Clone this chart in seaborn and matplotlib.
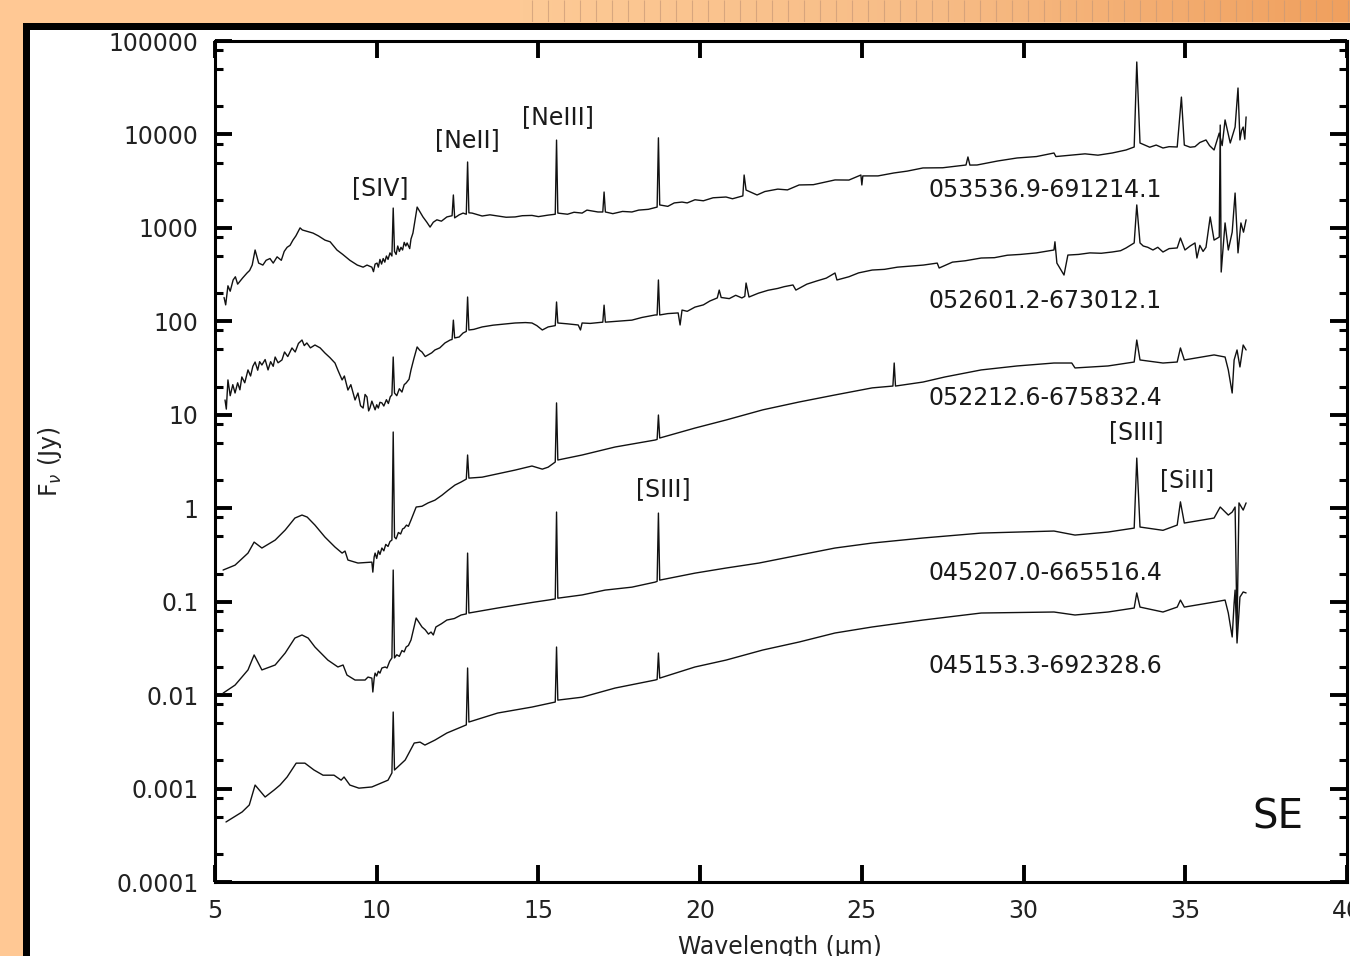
import matplotlib
matplotlib.use("Agg")
import numpy as np
import pandas as pd
import matplotlib.pyplot as plt
import seaborn as sns
from matplotlib.patches import Rectangle
from matplotlib.colors import LinearSegmentedColormap
from matplotlib.ticker import LogLocator, NullFormatter, NullLocator

# ---------------------------------------------------------------- data
sources = ["053536.9-691214.1", "052601.2-673012.1", "052212.6-675832.4",
           "045207.0-665516.4", "045153.3-692328.6"]

# (wavelength [um], F_nu [Jy]) samples for each spectrum
spec_a = [
    (5.28, 180), (5.33, 150), (5.40, 240), (5.47, 210), (5.56, 277), (5.63, 300),
    (5.70, 250), (5.85, 290), (5.99, 329), (6.07, 350), (6.15, 400), (6.24, 580),
    (6.35, 420), (6.48, 400), (6.58, 450), (6.70, 470), (6.80, 420), (6.92, 490),
    (7.05, 450), (7.14, 560), (7.23, 620), (7.32, 650), (7.41, 740), (7.50, 820),
    (7.63, 1000), (7.70, 950), (8.03, 880), (8.20, 820), (8.40, 740), (8.56, 710),
    (8.77, 580), (8.95, 520), (9.17, 450), (9.40, 400), (9.58, 380), (9.70, 400),
    (9.85, 380), (9.90, 340), (9.95, 410), (10.01, 420), (10.05, 380), (10.10, 460),
    (10.15, 410), (10.20, 470), (10.25, 430), (10.30, 500), (10.35, 460), (10.41, 540),
    (10.47, 500), (10.51, 1630), (10.55, 560), (10.60, 520), (10.65, 640), (10.70, 560),
    (10.75, 620), (10.80, 580), (10.85, 700), (10.90, 640), (10.94, 690), (11.02, 600),
    (11.06, 760), (11.12, 880), (11.25, 1670), (11.43, 1310), (11.55, 1150), (11.65, 1020),
    (11.75, 1150), (11.86, 1220), (12.00, 1180), (12.17, 1310), (12.33, 1350), (12.37, 2250),
    (12.41, 1280), (12.55, 1380), (12.67, 1440), (12.77, 1400), (12.81, 5070), (12.85, 1450),
    (12.95, 1440), (13.26, 1340), (13.50, 1380), (13.80, 1330), (14.00, 1300), (14.28, 1310),
    (14.50, 1350), (14.80, 1360), (15.00, 1320), (15.30, 1370), (15.52, 1400), (15.56, 8700),
    (15.60, 1440), (15.90, 1400), (16.10, 1470), (16.35, 1440), (16.50, 1550), (16.84, 1480),
    (16.99, 1480), (17.03, 2420), (17.07, 1480), (17.30, 1420), (17.60, 1500), (17.89, 1480),
    (18.10, 1550), (18.40, 1580), (18.67, 1670), (18.71, 9200), (18.75, 1760), (19.00, 1700),
    (19.20, 1850), (19.44, 1890), (19.60, 1850), (19.84, 2000), (20.10, 1950), (20.40, 2100),
    (20.80, 2140), (21.00, 2050), (21.32, 2200), (21.36, 3680), (21.42, 2540), (21.76, 2250),
    (22.00, 2450), (22.40, 2600), (22.70, 2550), (23.06, 2880), (23.50, 2900), (24.17, 3260),
    (24.60, 3250), (24.97, 3680), (25.00, 2880), (25.03, 3600), (25.50, 3600), (25.99, 3870),
    (26.40, 4050), (26.89, 4380), (27.50, 4400), (28.22, 4710), (28.28, 5740), (28.34, 4700),
    (28.56, 4710), (29.20, 5200), (29.80, 5600), (30.40, 5800), (30.94, 6330), (31.00, 5800),
    (31.90, 6200), (32.30, 6000), (32.74, 6330), (33.17, 6820), (33.42, 7340), (33.50, 59600),
    (33.60, 8100), (33.90, 7300), (34.10, 7700), (34.31, 7160), (34.50, 7400), (34.75, 7340),
    (34.88, 25100), (34.97, 7700), (35.15, 7300), (35.30, 7400), (35.45, 8200), (35.64, 8730),
    (35.75, 7600), (35.89, 6820), (36.05, 10350), (36.14, 7600), (36.23, 14300), (36.39, 8100),
    (36.54, 12000), (36.63, 31400), (36.69, 8730), (36.74, 11000), (36.79, 12000), (36.84, 8900),
    (36.88, 15400)]

spec_b = [
    (5.31, 14.4), (5.35, 11.5), (5.40, 23.6), (5.47, 16.0), (5.55, 21.0), (5.62, 17.1),
    (5.70, 22.0), (5.77, 18.5), (5.83, 25.4), (5.92, 22.0), (6.02, 30.2), (6.10, 26.0),
    (6.17, 33.0), (6.24, 36.7), (6.32, 30.0), (6.38, 37.0), (6.45, 34.1), (6.55, 39.0),
    (6.64, 30.2), (6.72, 37.0), (6.80, 33.0), (6.86, 41.5), (6.95, 36.0), (7.07, 38.6),
    (7.15, 47.0), (7.25, 42.0), (7.38, 51.9), (7.48, 47.0), (7.58, 58.0), (7.69, 63.1),
    (7.76, 55.0), (7.84, 58.7), (7.95, 52.0), (8.09, 55.8), (8.25, 52.0), (8.40, 45.8),
    (8.55, 41.0), (8.71, 35.8), (8.80, 30.0), (8.93, 23.6), (9.00, 26.0), (9.11, 18.4),
    (9.20, 21.0), (9.33, 14.4), (9.42, 17.1), (9.50, 12.5), (9.58, 11.8), (9.64, 16.5),
    (9.70, 15.5), (9.75, 11.0), (9.79, 11.8), (9.85, 14.0), (9.95, 11.3), (10.00, 12.8),
    (10.05, 11.8), (10.10, 13.6), (10.16, 13.4), (10.22, 12.4), (10.30, 14.5), (10.36, 13.2),
    (10.42, 15.6), (10.47, 16.3), (10.51, 41.5), (10.55, 17.1), (10.62, 16.0), (10.70, 19.0),
    (10.78, 17.5), (10.85, 21.0), (10.91, 21.9), (11.00, 24.0), (11.06, 30.2), (11.15, 40.0),
    (11.25, 53.2), (11.33, 49.0), (11.40, 47.0), (11.50, 42.0), (11.59, 43.7), (11.70, 46.0),
    (11.80, 49.4), (11.95, 52.0), (12.11, 58.7), (12.27, 63.1), (12.33, 64.0), (12.37, 103),
    (12.41, 66.4), (12.55, 68.0), (12.67, 75.0), (12.77, 78.0), (12.81, 182), (12.85, 80.8),
    (13.00, 82.0), (13.26, 87.1), (13.60, 91.0), (14.00, 94.0), (14.28, 96), (14.60, 97),
    (14.80, 96), (14.95, 90), (15.12, 80.8), (15.30, 87.1), (15.52, 90), (15.56, 161),
    (15.60, 96), (15.90, 94), (16.23, 91.4), (16.30, 80.8), (16.35, 96), (16.60, 95),
    (16.96, 98), (16.99, 98), (17.03, 149), (17.07, 98), (17.40, 100), (17.89, 103),
    (18.20, 110), (18.61, 117), (18.67, 117), (18.71, 277), (18.75, 117), (19.00, 121),
    (19.32, 123), (19.38, 91.4), (19.44, 132), (19.60, 128), (19.84, 142), (20.10, 150),
    (20.30, 165), (20.53, 178), (20.59, 216), (20.65, 180), (20.90, 175), (21.10, 190),
    (21.29, 178), (21.38, 185), (21.42, 257), (21.51, 182), (21.80, 200), (22.10, 215),
    (22.40, 225), (22.60, 235), (22.87, 245), (22.96, 216), (23.30, 250), (23.60, 270),
    (23.90, 290), (24.17, 329), (24.23, 277), (24.60, 300), (24.90, 330), (25.32, 354),
    (25.70, 360), (26.10, 380), (26.50, 390), (26.90, 400), (27.33, 420), (27.39, 372),
    (27.80, 430), (28.20, 445), (28.69, 476), (29.10, 480), (29.50, 510), (29.90, 520),
    (30.40, 540), (30.94, 580), (30.97, 710), (31.03, 420), (31.25, 313), (31.37, 512),
    (31.70, 520), (32.05, 540), (32.40, 535), (32.74, 552), (33.00, 570), (33.17, 610),
    (33.42, 690), (33.50, 1760), (33.60, 690), (33.70, 640), (33.84, 620), (34.00, 580),
    (34.15, 620), (34.31, 552), (34.50, 600), (34.75, 610), (34.85, 779), (34.99, 580),
    (35.15, 640), (35.30, 690), (35.36, 476), (35.45, 650), (35.55, 560), (35.64, 620),
    (35.77, 1310), (35.89, 740), (36.05, 798), (36.08, 12600), (36.11, 337), (36.23, 1130),
    (36.33, 580), (36.45, 900), (36.54, 2360), (36.63, 540), (36.72, 1130), (36.80, 900),
    (36.88, 1220)]

spec_c = [
    (5.25, 0.218), (5.62, 0.246), (6.02, 0.331), (6.21, 0.434), (6.45, 0.375), (6.86, 0.456),
    (7.17, 0.584), (7.47, 0.785), (7.69, 0.845), (7.85, 0.804), (8.09, 0.66), (8.40, 0.491),
    (8.71, 0.384), (8.93, 0.331), (9.02, 0.348), (9.11, 0.279), (9.42, 0.259), (9.85, 0.265),
    (9.88, 0.207), (9.92, 0.30), (9.95, 0.331), (10.00, 0.29), (10.05, 0.35), (10.10, 0.32),
    (10.16, 0.375), (10.22, 0.35), (10.28, 0.41), (10.35, 0.39), (10.41, 0.44), (10.47, 0.456),
    (10.51, 6.54), (10.55, 0.491), (10.60, 0.47), (10.67, 0.55), (10.74, 0.53), (10.80, 0.60),
    (10.85, 0.613), (10.92, 0.66), (10.98, 0.64), (11.06, 0.747), (11.22, 1.03), (11.40, 1.05),
    (11.59, 1.14), (11.80, 1.22), (12.02, 1.38), (12.20, 1.55), (12.42, 1.77), (12.60, 1.90),
    (12.77, 2.05), (12.81, 3.71), (12.85, 2.10), (13.26, 2.15), (14.28, 2.56), (14.80, 2.83),
    (15.12, 2.62), (15.30, 2.75), (15.52, 3.12), (15.56, 13.4), (15.60, 3.28), (16.35, 3.71),
    (17.37, 4.52), (18.61, 5.37), (18.67, 5.45), (18.71, 9.94), (18.75, 5.64), (19.84, 7.21),
    (20.80, 8.79), (21.94, 11.3), (23.06, 13.7), (24.17, 16.3), (25.32, 19.4), (25.96, 20.3),
    (26.00, 35.8), (26.04, 20.3), (26.89, 22.4), (27.57, 25.4), (28.69, 30.2), (29.80, 33.3),
    (30.94, 35.8), (31.49, 35.8), (31.59, 31.7), (32.61, 33.3), (33.42, 36.7), (33.50, 63.1),
    (33.60, 38.6), (34.31, 35.8), (34.75, 36.7), (34.85, 51.9), (34.97, 38.6), (35.89, 43.7),
    (36.23, 41.5), (36.33, 30.2), (36.45, 17.1), (36.51, 38.6), (36.60, 49.4), (36.69, 32.5),
    (36.79, 55.8), (36.88, 49.4)]

spec_d = [
    (5.25, 0.0105), (5.62, 0.0128), (6.02, 0.0186), (6.21, 0.0269), (6.45, 0.0186),
    (6.86, 0.021), (7.17, 0.0282), (7.47, 0.0408), (7.69, 0.044), (7.88, 0.0408),
    (8.09, 0.0327), (8.49, 0.0237), (8.80, 0.020), (8.96, 0.021), (9.08, 0.0164),
    (9.33, 0.0145), (9.64, 0.0145), (9.73, 0.0156), (9.85, 0.0152), (9.88, 0.0108),
    (9.92, 0.015), (9.95, 0.0172), (10.00, 0.016), (10.05, 0.018), (10.10, 0.0172),
    (10.16, 0.0195), (10.26, 0.020), (10.32, 0.0195), (10.40, 0.023), (10.47, 0.025),
    (10.51, 0.218), (10.55, 0.025), (10.62, 0.027), (10.70, 0.026), (10.78, 0.030),
    (10.85, 0.029), (10.91, 0.0327), (10.98, 0.034), (11.06, 0.0389), (11.22, 0.0668),
    (11.40, 0.0536), (11.50, 0.050), (11.60, 0.045), (11.68, 0.0473), (11.75, 0.044),
    (11.83, 0.0536), (12.00, 0.058), (12.17, 0.0636), (12.40, 0.066), (12.61, 0.072),
    (12.77, 0.074), (12.81, 0.331), (12.85, 0.0756), (13.74, 0.0855), (14.88, 0.099),
    (15.30, 0.104), (15.52, 0.107), (15.56, 0.91), (15.60, 0.109), (16.35, 0.118),
    (17.06, 0.133), (17.89, 0.143), (18.61, 0.162), (18.67, 0.165), (18.71, 0.887),
    (18.75, 0.170), (19.84, 0.202), (20.80, 0.229), (21.82, 0.259), (23.06, 0.315),
    (24.17, 0.375), (25.32, 0.424), (26.89, 0.48), (28.69, 0.542), (30.94, 0.57),
    (31.59, 0.516), (32.61, 0.556), (33.42, 0.613), (33.50, 3.44), (33.60, 0.629),
    (34.31, 0.58), (34.75, 0.66), (34.85, 1.17), (34.97, 0.694), (35.89, 0.785),
    (36.08, 1.03), (36.33, 0.845), (36.45, 0.91), (36.54, 1.03), (36.60, 0.0497),
    (36.66, 1.14), (36.79, 0.955), (36.88, 1.14)]

spec_e = [
    (5.34, 4.39e-4), (5.84, 5.62e-4), (6.06, 6.67e-4), (6.24, 1.09e-3), (6.55, 8.12e-4),
    (6.83, 9.66e-4), (7.01, 1.09e-3), (7.23, 1.33e-3), (7.51, 1.87e-3), (7.78, 1.87e-3),
    (8.06, 1.58e-3), (8.34, 1.39e-3), (8.68, 1.39e-3), (8.90, 1.23e-3), (8.99, 1.33e-3),
    (9.17, 1.09e-3), (9.45, 1.01e-3), (9.85, 1.04e-3), (10.35, 1.23e-3), (10.47, 1.47e-3),
    (10.51, 6.59e-3), (10.55, 1.58e-3), (10.88, 2.02e-3), (11.16, 3.07e-3), (11.34, 3.14e-3),
    (11.49, 2.92e-3), (11.80, 3.30e-3), (12.17, 3.93e-3), (12.61, 4.55e-3), (12.77, 4.8e-3),
    (12.81, 1.95e-2), (12.85, 5.15e-3), (13.74, 6.43e-3), (14.80, 7.45e-3), (15.52, 8.43e-3),
    (15.56, 3.27e-2), (15.60, 8.84e-3), (16.35, 9.5e-3), (17.37, 1.19e-2), (18.61, 1.45e-2),
    (18.67, 1.47e-2), (18.71, 2.82e-2), (18.75, 1.52e-2), (19.84, 2.0e-2), (20.80, 2.37e-2),
    (21.94, 3.04e-2), (23.06, 3.7e-2), (24.17, 4.62e-2), (25.32, 5.36e-2), (26.89, 6.36e-2),
    (28.69, 7.56e-2), (30.94, 7.75e-2), (31.59, 7.2e-2), (32.61, 7.75e-2), (33.42, 8.55e-2),
    (33.50, 1.24e-1), (33.60, 8.75e-2), (34.31, 7.75e-2), (34.75, 8.75e-2), (34.85, 0.104),
    (34.97, 8.75e-2), (35.89, 9.9e-2), (36.23, 0.104), (36.33, 7.56e-2), (36.45, 4.19e-2),
    (36.51, 9.7e-2), (36.54, 0.133), (36.60, 3.61e-2), (36.69, 0.112), (36.79, 0.127),
    (36.88, 0.124)]

# source label anchor (wavelength, flux) placed to the right of each spectrum
label_wl = 27.05
label_flux = [2540, 165, 15.1, 0.203, 0.0205]

# emission-line identifications: (text, wavelength, flux)
line_ids = [("[SIV]", 10.1, 2670), ("[NeII]", 12.8, 8720), ("[NeIII]", 15.6, 15400),
            ("[SIII]", 18.85, 1.61), ("[SIII]", 33.5, 6.54), ("[SiII]", 35.05, 2.0)]

ytick_vals = [1e-4, 1e-3, 1e-2, 1e-1, 1, 10, 100, 1000, 10000, 100000]
ytick_labels = ["0.0001", "0.001", "0.01", "0.1", "1", "10", "100",
                "1000", "10000", "100000"]
xtick_vals = [5, 10, 15, 20, 25, 30, 35, 40]

frames = []
for name, spec in zip(sources, [spec_a, spec_b, spec_c, spec_d, spec_e]):
    wl, fx = zip(*spec)
    frames.append(pd.DataFrame({"wavelength": wl, "flux": fx, "source": name}))
df = pd.concat(frames, ignore_index=True)

# ---------------------------------------------------------------- figure
sns.set_theme(style="ticks")
plt.rcParams["font.family"] = ["DejaVu Sans"]
plt.rcParams["mathtext.fontset"] = "dejavusans"

W, H = 1350, 956
fig = plt.figure(figsize=(W / 100, H / 100), dpi=100)
fig.patch.set_facecolor("#FFC894")


def box(x0, y0, x1, y1):
    """Pixel box (top-left origin) -> figure-fraction rect."""
    return [x0 / W, 1 - y1 / H, (x1 - x0) / W, (y1 - y0) / H]


# window frame: thick black border and white panel
fig.add_artist(Rectangle((23 / W, 0), 1 - 23 / W, 1 - 23 / H, transform=fig.transFigure,
                         facecolor="black", edgecolor="none", zorder=-3))
fig.add_artist(Rectangle((30 / W, 0), 1 - 30 / W, 1 - 30 / H, transform=fig.transFigure,
                         facecolor="white", edgecolor="none", zorder=-2))

# title-bar gradient strip along the top edge
ax_bar = fig.add_axes(box(520, 0, 1350, 22))
grad = np.linspace(0, 1, 256)[None, :]
bar_cmap = LinearSegmentedColormap.from_list("bar", ["#FDCA96", "#F7BC86", "#F0A05E"])
ax_bar.imshow(grad, aspect="auto", cmap=bar_cmap, extent=[0, 830, 0, 22])
ax_bar.vlines(np.arange(12, 830, 16), 0, 22, color="#C99A78", lw=0.8, alpha=0.7)
ax_bar.set_xlim(0, 830)
ax_bar.set_ylim(0, 22)
ax_bar.axis("off")

# main axes
ax = fig.add_axes(box(215, 41, 1347, 882))
ax.set_facecolor("white")
sns.lineplot(data=df, x="wavelength", y="flux", units="source", estimator=None,
             sort=False, color="#111111", lw=1.0, legend=False, ax=ax)

ax.set_yscale("log")
ax.set_xlim(5, 40)
ax.set_ylim(1e-4, 1e5)
ax.set_yticks(ytick_vals)
ax.set_yticklabels(ytick_labels)
ax.yaxis.set_minor_locator(LogLocator(base=10, subs=(2, 5, 8), numticks=30))
ax.yaxis.set_minor_formatter(NullFormatter())
ax.set_xticks(xtick_vals)
ax.set_xticklabels([str(v) for v in xtick_vals])
ax.xaxis.set_minor_locator(NullLocator())

ax.tick_params(which="major", direction="in", length=12, width=2.8, top=True, right=True,
               labelsize=17, pad=12, labelcolor="#222222", color="black")
ax.tick_params(which="minor", direction="in", length=6, width=2.2, right=True, top=False,
               color="black")
for sp in ax.spines.values():
    sp.set_linewidth(2.2)
    sp.set_color("black")

ax.set_xlabel("Wavelength (μm)", fontsize=17, color="#222222")
ax.xaxis.set_label_coords(0.499, -0.063)
ax.set_ylabel(r"F$_\nu$ (Jy)", fontsize=17, color="#222222")
ax.yaxis.set_label_coords(-0.133, 0.5)

for name, fy in zip(sources, label_flux):
    ax.text(label_wl, fy, name, fontsize=17, color="#1a1a1a", ha="left", va="center")
for txt, lx, ly in line_ids:
    ax.text(lx, ly, txt, fontsize=17, color="#1a1a1a", ha="center", va="center")
ax.text(37.87, 4.96e-4, "SE", fontsize=29, color="#111111", ha="center", va="center")

fig.savefig("out.png", dpi=100, facecolor=fig.get_facecolor())
